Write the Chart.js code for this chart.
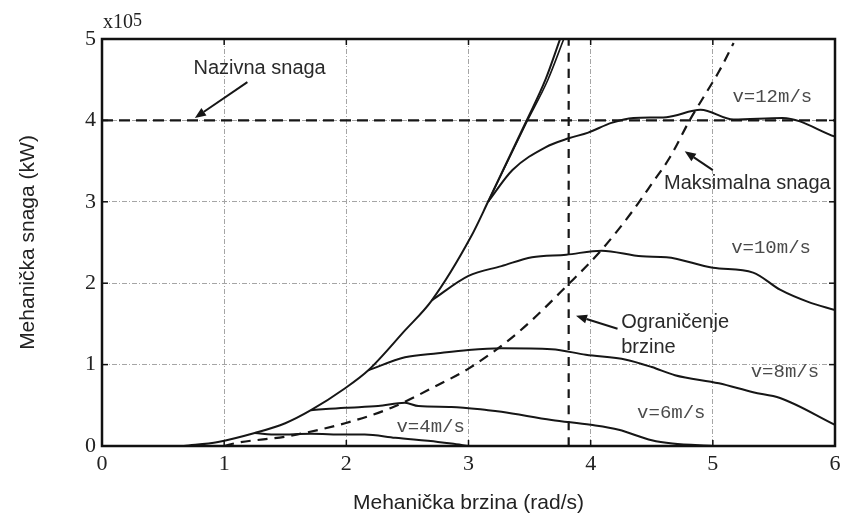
<!DOCTYPE html>
<html><head><meta charset="utf-8">
<script src="https://cdn.jsdelivr.net/npm/chart.js@4.4.1/dist/chart.umd.min.js"></script>
<style>html,body{margin:0;padding:0;background:#fff;}#wrap{width:847px;height:517px;}</style>
</head><body><div id="wrap"><canvas id="c" width="847" height="517"></canvas></div>
<script>
// ---- data ----
const xTicks = [0, 1, 2, 3, 4, 5, 6];
const yTicks = [0, 1, 2, 3, 4, 5];

// optimal-power envelope (two nearly coincident traces near the top)
const envX  = [0.67, 0.95, 1.25, 1.50, 1.71, 1.99, 2.18, 2.48, 2.70, 3.02, 3.16, 3.47, 3.63, 3.75];
const envY  = [0.00, 0.05, 0.16, 0.28, 0.44, 0.71, 0.93, 1.42, 1.79, 2.57, 3.00, 3.98, 4.50, 5.00];
const env2X = [3.16, 3.47, 3.65, 3.78];
const env2Y = [3.00, 3.96, 4.50, 5.00];

const v12X = [3.16, 3.36, 3.63, 3.82, 3.98, 4.17, 4.35, 4.62, 4.90, 5.17, 5.57, 6.00];
const v12Y = [3.00, 3.39, 3.67, 3.78, 3.85, 3.97, 4.03, 4.04, 4.13, 4.01, 4.03, 3.80];

const v10X = [2.70, 3.00, 3.27, 3.52, 3.80, 4.09, 4.42, 4.62, 5.00, 5.33, 5.55, 5.78, 6.00];
const v10Y = [1.79, 2.09, 2.21, 2.32, 2.35, 2.40, 2.33, 2.32, 2.19, 2.13, 1.92, 1.77, 1.67];

const v8X = [2.18, 2.48, 2.75, 3.00, 3.27, 3.68, 3.96, 4.29, 4.50, 4.69, 5.05, 5.33, 5.55, 6.00];
const v8Y = [0.93, 1.09, 1.14, 1.18, 1.20, 1.19, 1.12, 1.06, 0.97, 0.87, 0.77, 0.66, 0.59, 0.26];

const v6X = [1.71, 1.99, 2.26, 2.48, 2.59, 2.86, 3.16, 3.27, 3.68, 4.00, 4.23, 4.50, 4.67, 5.00];
const v6Y = [0.44, 0.47, 0.49, 0.53, 0.49, 0.48, 0.44, 0.42, 0.32, 0.26, 0.20, 0.07, 0.03, 0.00];

const v4X = [1.25, 1.44, 1.71, 1.99, 2.15, 2.40, 2.75, 2.86, 3.00];
const v4Y = [0.16, 0.14, 0.15, 0.14, 0.14, 0.10, 0.05, 0.03, 0.00];

// "Maksimalna snaga" dashed curve
const maxX = [1.00, 1.11, 1.52, 1.99, 2.37, 2.75, 3.00, 3.41, 3.82, 4.09, 4.34, 4.50, 4.65, 4.81, 4.95, 5.05, 5.17];
const maxY = [0.00, 0.04, 0.12, 0.28, 0.47, 0.75, 0.95, 1.40, 1.99, 2.41, 2.88, 3.22, 3.55, 4.00, 4.35, 4.60, 4.95];

// "Nazivna snaga" rated-power line and "Ograničenje brzine" speed limit
const ratedX = [0, 6];
const ratedY = [4, 4];
const limitX = [3.82, 3.82];
const limitY = [0, 5];

const labelVel = ['v=12m/s', 'v=10m/s', 'v=8m/s', 'v=6m/s', 'v=4m/s'];

// ---- helpers ----
const pts = (xs, ys) => xs.map((x, i) => ({x, y: ys[i]}));
const INK = '#161616';
function solid(xs, ys, w) {
  return {data: pts(xs, ys), showLine: true, borderColor: INK, borderWidth: w || 2,
          pointRadius: 0, cubicInterpolationMode: 'monotone', fill: false};
}
function dashed(xs, ys, dash) {
  return {data: pts(xs, ys), showLine: true, borderColor: INK, borderWidth: 2.2,
          borderDash: dash, pointRadius: 0, tension: 0, cubicInterpolationMode: 'monotone', fill: false};
}

function arrow(ctx, x1, y1, x2, y2) {
  ctx.save();
  ctx.strokeStyle = INK; ctx.fillStyle = INK; ctx.lineWidth = 2;
  const a = Math.atan2(y2 - y1, x2 - x1), L = 11, W = 4.5;
  const bx = x2 - L * Math.cos(a), by = y2 - L * Math.sin(a);
  ctx.beginPath(); ctx.moveTo(x1, y1); ctx.lineTo(bx, by); ctx.stroke();
  ctx.beginPath();
  ctx.moveTo(x2, y2);
  ctx.lineTo(bx + W * Math.sin(a), by - W * Math.cos(a));
  ctx.lineTo(bx - W * Math.sin(a), by + W * Math.cos(a));
  ctx.closePath(); ctx.fill();
  ctx.restore();
}

const decor = {
  id: 'decor',
  afterDatasetsDraw(chart) {
    const ctx = chart.ctx, a = chart.chartArea;
    const sx = chart.scales.x, sy = chart.scales.y;
    const X = v => sx.getPixelForValue(v), Y = v => sy.getPixelForValue(v);
    ctx.save();
    // frame
    ctx.strokeStyle = '#111'; ctx.lineWidth = 2.5;
    ctx.strokeRect(a.left, a.top, a.right - a.left, a.bottom - a.top);
    // small inward ticks
    ctx.lineWidth = 1.5;
    xTicks.forEach(v => { const px = X(v);
      ctx.beginPath(); ctx.moveTo(px, a.bottom); ctx.lineTo(px, a.bottom - 6); ctx.stroke();
      ctx.beginPath(); ctx.moveTo(px, a.top); ctx.lineTo(px, a.top + 6); ctx.stroke(); });
    yTicks.forEach(v => { const py = Y(v);
      ctx.beginPath(); ctx.moveTo(a.left, py); ctx.lineTo(a.left + 6, py); ctx.stroke();
      ctx.beginPath(); ctx.moveTo(a.right, py); ctx.lineTo(a.right - 6, py); ctx.stroke(); });

    // exponent label
    ctx.fillStyle = '#222';
    ctx.textBaseline = 'alphabetic'; ctx.textAlign = 'left';
    ctx.font = '20px "Liberation Serif"';
    ctx.fillText('x10', a.left + 1, a.top - 11);
    const w = ctx.measureText('x10').width;
    ctx.font = '18px "Liberation Serif"';
    ctx.fillText('5', a.left + 1 + w, a.top - 13);

    // annotations
    ctx.fillStyle = '#2a2a2a';
    ctx.font = '20px "Liberation Sans"';
    ctx.textBaseline = 'middle';
    ctx.textAlign = 'center';
    ctx.fillText('Nazivna snaga', X(1.29), Y(4.64));
    ctx.textAlign = 'left';
    ctx.fillText('Maksimalna snaga', X(4.60), Y(3.23));
    ctx.fillText('Ograničenje', X(4.25), Y(1.52));
    ctx.fillText('brzine', X(4.25), Y(1.21));
    arrow(ctx, X(1.19), Y(4.47), X(0.76), Y(4.03));
    arrow(ctx, X(5.00), Y(3.39), X(4.77), Y(3.62));
    arrow(ctx, X(4.22), Y(1.44), X(3.88), Y(1.60));

    // wind speed labels
    ctx.fillStyle = '#4a4a4a';
    ctx.font = '19px "Liberation Mono"';
    const pos = [[5.16, 4.29], [5.15, 2.43], [5.31, 0.91], [4.38, 0.405], [2.41, 0.23]];
    labelVel.forEach((t, i) => ctx.fillText(t, X(pos[i][0]), Y(pos[i][1])));
    ctx.restore();
  }
};

const gridColor = (ctx, max) => (ctx.tick && (ctx.tick.value === 0 || ctx.tick.value === max)) ? 'rgba(0,0,0,0)' : '#a5a5a5';

new Chart(document.getElementById('c'), {
  type: 'scatter',
  data: {datasets: [
    solid(envX, envY), solid(env2X, env2Y, 1.6),
    solid(v12X, v12Y), solid(v10X, v10Y), solid(v8X, v8Y), solid(v6X, v6Y), solid(v4X, v4Y),
    dashed(maxX, maxY, [10, 7]),
    dashed(ratedX, ratedY, [11, 6]),
    dashed(limitX, limitY, [9, 7])
  ]},
  options: {
    responsive: false, animation: false, devicePixelRatio: 1,
    layout: {padding: {top: 39, right: 12, left: 0, bottom: 0}},
    plugins: {legend: {display: false}, tooltip: {enabled: false}},
    scales: {
      x: {
        type: 'linear', min: 0, max: 6,
        afterBuildTicks: s => { s.ticks = xTicks.map(v => ({value: v})); },
        afterFit: s => { s.height = 71; },
        ticks: {font: {family: 'Liberation Serif', size: 22}, color: '#222', padding: 5, maxRotation: 0, autoSkip: false},
        grid: {color: c => gridColor(c, 6), lineWidth: 1, drawTicks: false},
        border: {display: false, dash: [5, 2, 1, 2]},
        title: {display: true, text: 'Mehanička brzina (rad/s)', color: '#222',
                font: {family: 'Liberation Sans', size: 21}, padding: {top: 0, bottom: 1}}
      },
      y: {
        type: 'linear', min: 0, max: 5,
        afterBuildTicks: s => { s.ticks = yTicks.map(v => ({value: v})); },
        afterFit: s => { s.width = 102; },
        ticks: {font: {family: 'Liberation Serif', size: 22}, color: '#222', padding: 6, autoSkip: false},
        grid: {color: c => gridColor(c, 5), lineWidth: 1, drawTicks: false},
        border: {display: false, dash: [5, 2, 1, 2]},
        title: {display: true, text: 'Mehanička snaga (kW)', color: '#222',
                font: {family: 'Liberation Sans', size: 21}, padding: {top: 16, bottom: 0}}
      }
    }
  },
  plugins: [decor]
});
</script>
</body></html>
